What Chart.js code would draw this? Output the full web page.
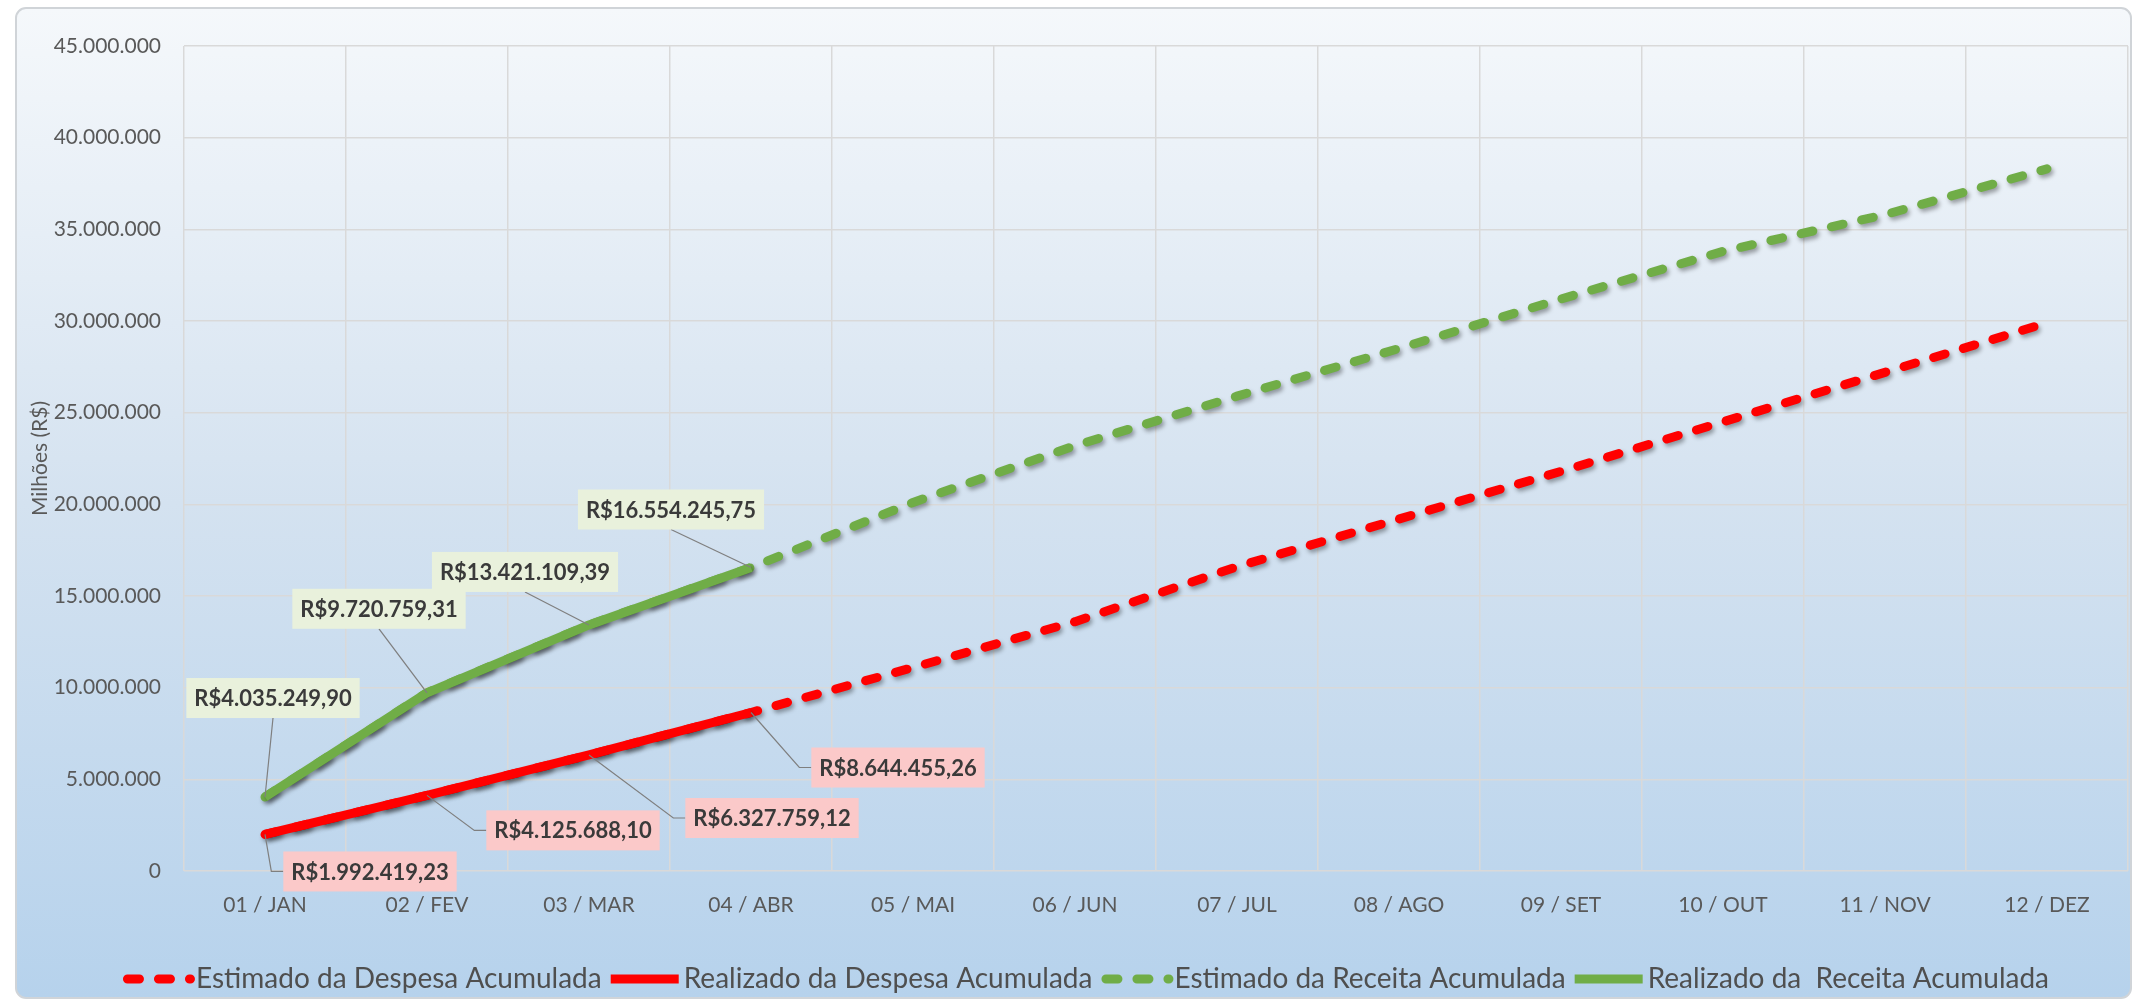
<!DOCTYPE html>
<html lang="pt-BR">
<head>
  <meta charset="UTF-8">
  <title>Despesa x Receita Acumulada</title>
  <script src="https://cdn.jsdelivr.net/npm/chart.js"></script>
  <style>
    html, body { margin: 0; padding: 0; background: #fff; }
    #grafico { display: block; }
  </style>
</head>
<body>
  <canvas id="grafico" width="2141" height="1001"></canvas>

  <script>
    // meses do exercicio
    const meses = ['01 / JAN', '02 / FEV', '03 / MAR', '04 / ABR', '05 / MAI', '06 / JUN',
                   '07 / JUL', '08 / AGO', '09 / SET', '10 / OUT', '11 / NOV', '12 / DEZ'];

    // valores acumulados (R$)
    const despesaEstimada = [1992419.23, 4125688.10, 6327759.12, 8644455.26, 11100000, 13600000,
                             16600000, 19200000, 21800000, 24500000, 27200000, 29900000];
    const despesaRealizada = [1992419.23, 4125688.10, 6327759.12, 8644455.26, null, null,
                              null, null, null, null, null, null];
    const receitaEstimada = [4035249.90, 9720759.31, 13421109.39, 16554245.75, 20100000, 23200000,
                             25900000, 28500000, 31200000, 33800000, 35800000, 38300000];
    const receitaRealizada = [4035249.90, 9720759.31, 13421109.39, 16554245.75, null, null,
                              null, null, null, null, null, null];

    // eixo vertical
    const eixoMin = 0;
    const eixoMax = 45000000;
    const eixoPasso = 5000000;

    // deslocamento das caixas de rotulo em relacao ao ponto (px)
    const posRotuloDespesa = [[105, 37], [146, 35], [183, 63], [147, 55]];
    const posRotuloReceita = [[8, -99], [-48, -84], [-64, -53], [-80, -58]];

    const FONTE = "Lato, 'Open Sans', sans-serif";
    const VERMELHO = '#ff0000';
    const VERDE = '#70ad47';
    const TRACO = [12, 19];

    function brl(v, casas) {
      const partes = v.toFixed(casas).split('.');
      const inteiro = partes[0].replace(/\B(?=(\d{3})+(?!\d))/g, '.');
      return partes[1] ? inteiro + ',' + partes[1] : inteiro;
    }

    // fundo degrade com borda arredondada
    const fundo = {
      id: 'fundo',
      beforeDraw(chart) {
        const ctx = chart.ctx;
        const x = 16, y = 8, w = 2131 - 16, h = 998 - 8, r = 10;
        ctx.save();
        ctx.fillStyle = '#fff';
        ctx.fillRect(0, 0, chart.width, chart.height);
        const g = ctx.createLinearGradient(0, y, 0, y + h);
        g.addColorStop(0, '#f5f8fb');
        g.addColorStop(0.5, '#d4e2f0');
        g.addColorStop(1, '#b6d2ec');
        ctx.beginPath();
        ctx.roundRect(x, y, w, h, r);
        ctx.fillStyle = g;
        ctx.fill();
        ctx.lineWidth = 2;
        ctx.strokeStyle = '#d0d4d8';
        ctx.stroke();
        ctx.restore();
      }
    };

    // sombra das linhas
    const sombra = {
      id: 'sombra',
      beforeDatasetDraw(chart) {
        const ctx = chart.ctx;
        ctx.save();
        ctx.shadowColor = 'rgba(0, 0, 0, 0.35)';
        ctx.shadowBlur = 4;
        ctx.shadowOffsetX = 2;
        ctx.shadowOffsetY = 3;
      },
      afterDatasetDraw(chart) {
        chart.ctx.restore();
      }
    };

    // caixas de valor do realizado, com linha guia
    const rotulos = {
      id: 'rotulos',
      afterDatasetsDraw(chart) {
        const ctx = chart.ctx;
        ctx.save();
        ctx.font = 'bold 22px ' + FONTE;
        ctx.textAlign = 'center';
        ctx.textBaseline = 'middle';
        chart.data.datasets.forEach((ds, di) => {
          if (!ds.rotulo) return;
          const meta = chart.getDatasetMeta(di);
          ds.rotulo.pos.forEach((off, i) => {
            const v = ds.data[i];
            if (v == null) return;
            const p = meta.data[i];
            const texto = 'R$' + brl(v, 2);
            const w = ctx.measureText(texto).width + 16;
            const h = 40;
            const cx = p.x + off[0], cy = p.y + off[1];
            const esq = cx - w / 2;

            ctx.strokeStyle = '#7f7f7f';
            ctx.lineWidth = 1.2;
            ctx.beginPath();
            if (cy < p.y) {
              ctx.moveTo(cx, cy + h / 2);
              ctx.lineTo(p.x, p.y);
            } else {
              ctx.moveTo(p.x, p.y);
              ctx.lineTo(esq - 12, cy);
              ctx.lineTo(esq, cy);
            }
            ctx.stroke();

            ctx.fillStyle = ds.rotulo.fundo;
            ctx.fillRect(esq, cy - h / 2, w, h);
            ctx.fillStyle = '#3a3a3a';
            ctx.fillText(texto, cx, cy + 1);
          });
        });
        ctx.restore();
      }
    };

    // legenda desenhada na base
    const legenda = {
      id: 'legenda',
      afterDraw(chart) {
        const ctx = chart.ctx;
        const y = 979;
        const marca = 68, gapTexto = 5, gapItem = 9;
        ctx.save();
        ctx.font = '28px ' + FONTE;
        ctx.textBaseline = 'middle';
        const itens = chart.data.datasets.map(ds => ({ ds, w: ctx.measureText(ds.label).width }));
        const total = itens.reduce((s, it) => s + marca + gapTexto + it.w, 0) + gapItem * (itens.length - 1);
        let x = 1086 - total / 2;
        itens.forEach(it => {
          const ds = it.ds;
          ctx.strokeStyle = ds.borderColor;
          ctx.lineWidth = ds.borderWidth;
          ctx.lineCap = ds.borderDash ? 'round' : 'butt';
          ctx.setLineDash(ds.borderDash || []);
          ctx.beginPath();
          if (ds.borderDash) {
            ctx.moveTo(x + 4.5, y);
            ctx.lineTo(x + 4.5 + 63, y);
          } else {
            ctx.moveTo(x, y);
            ctx.lineTo(x + marca, y);
          }
          ctx.stroke();
          ctx.setLineDash([]);
          x += marca + gapTexto;
          ctx.fillStyle = '#4f4f4f';
          ctx.fillText(ds.label, x, y);
          x += it.w + gapItem;
        });
        ctx.restore();
      }
    };

    new Chart(document.getElementById('grafico'), {
      type: 'line',
      data: {
        labels: meses,
        datasets: [
          {
            label: 'Estimado da Despesa Acumulada',
            data: despesaEstimada,
            borderColor: VERMELHO,
            borderWidth: 9,
            borderDash: TRACO,
            borderCapStyle: 'round',
            order: 2
          },
          {
            label: 'Realizado da Despesa Acumulada',
            data: despesaRealizada,
            borderColor: VERMELHO,
            borderWidth: 9,
            order: 1,
            rotulo: { pos: posRotuloDespesa, fundo: '#fbc9c9' }
          },
          {
            label: 'Estimado da Receita Acumulada',
            data: receitaEstimada,
            borderColor: VERDE,
            borderWidth: 9,
            borderDash: TRACO,
            borderCapStyle: 'round',
            order: 2
          },
          {
            label: 'Realizado da  Receita Acumulada',
            data: receitaRealizada,
            borderColor: VERDE,
            borderWidth: 9,
            order: 1,
            rotulo: { pos: posRotuloReceita, fundo: '#e9f1dc' }
          }
        ]
      },
      options: {
        responsive: false,
        devicePixelRatio: 1,
        animation: false,
        spanGaps: false,
        elements: {
          point: { radius: 0, hoverRadius: 0 },
          line: { tension: 0, borderJoinStyle: 'round', fill: false }
        },
        layout: { padding: { left: 20, right: 13, top: 46, bottom: 0 } },
        plugins: {
          legend: { display: false },
          tooltip: { enabled: false }
        },
        scales: {
          x: {
            offset: true,
            grid: { offset: true, color: '#d9d9d9', lineWidth: 1.5, drawTicks: false },
            border: { display: false },
            ticks: { color: '#595959', font: { family: FONTE, size: 21 }, padding: 22, maxRotation: 0 },
            afterFit(scale) { scale.height = 130; }
          },
          y: {
            min: eixoMin,
            max: eixoMax,
            grid: { color: '#d9d9d9', lineWidth: 1.5, drawTicks: false },
            border: { display: false },
            ticks: {
              stepSize: eixoPasso,
              color: '#595959',
              font: { family: FONTE, size: 21 },
              padding: 23,
              callback: v => brl(v, 0)
            },
            title: {
              display: true,
              text: 'Milhões (R$)',
              color: '#595959',
              font: { family: FONTE, size: 21 },
              padding: { top: 8, bottom: 0 }
            },
            afterFit(scale) { scale.width = 164; }
          }
        }
      },
      plugins: [fundo, sombra, rotulos, legenda]
    });
  </script>
</body>
</html>
